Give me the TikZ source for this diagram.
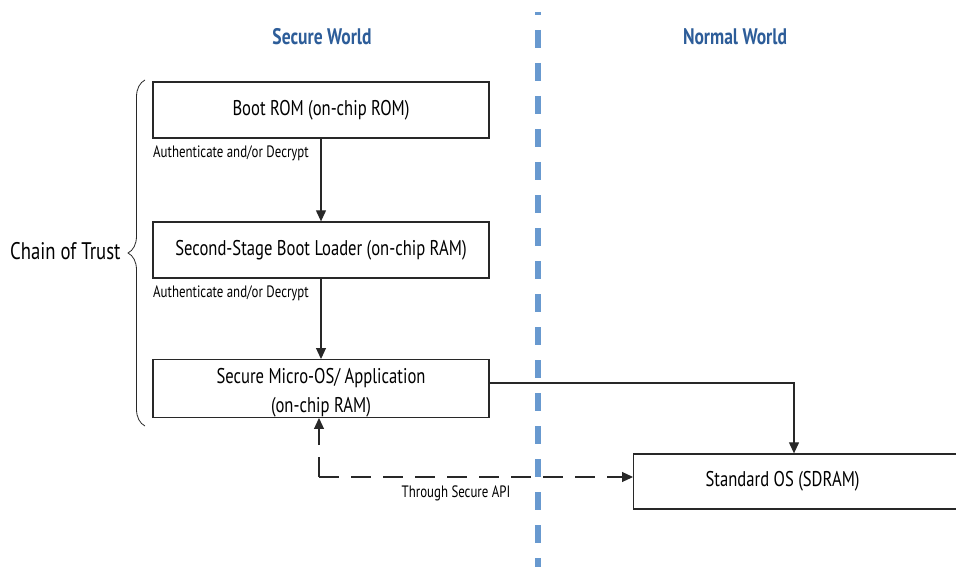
\documentclass[tikz,border=0pt]{standalone}
\usepackage{fontspec}
\setmainfont[FakeStretch=0.78]{PT Sans}
\usetikzlibrary{arrows.meta,decorations.pathreplacing}
\definecolor{divblue}{RGB}{104,153,207}
\definecolor{titleblue}{RGB}{45,93,153}
\definecolor{boxline}{RGB}{40,40,40}
\tikzset{
  stagebox/.style={draw=boxline,line width=1.3pt,minimum width=336pt,minimum height=56pt,inner sep=0pt,font=\fontsize{21.3}{29}\selectfont,align=center},
  osbox/.style={draw=boxline,line width=1.3pt,minimum height=55pt,inner sep=0pt,font=\fontsize{21.3}{29}\selectfont},
  flow/.style={draw=boxline,line width=1.1pt,-{Triangle[length=11pt,width=10pt]}},
  apiflow/.style={flow,dash pattern=on 20pt off 12pt},
  smalllabel/.style={font=\fontsize{16.5}{18}\selectfont,inner sep=0pt},
  title/.style={font=\fontsize{22.5}{26}\selectfont\bfseries,text=titleblue},
}
\begin{document}
\begin{tikzpicture}[x=1pt,y=-1pt]
\useasboundingbox (0,0) rectangle (956,567);
% divider
\draw[divblue,line width=6pt,dash pattern=on 18pt off 15pt,dash phase=15pt] (538,12) -- (538,567);
% titles
\node[title] (sw) at (322,37) {Secure World};
\node[title] (nw) at (735,37) {Normal World};
% boxes
\node[stagebox] (boot) at (321,110) {Boot ROM (on-chip ROM)};
\node[stagebox] (sbl) at (321,250) {Second-Stage Boot Loader (on-chip RAM)};
\node[stagebox] (smos) at (321,388.5) {\rule{0pt}{24pt}Secure Micro-OS/ Application\\(on-chip RAM)};
\node[osbox,anchor=west] (sos) at (633,481.5) {\makebox[330pt][l]{\hspace{72pt}Standard OS (SDRAM)}};
% labels
\node[smalllabel,anchor=west] (l1) at (153,153) {Authenticate and/or Decrypt};
\node[smalllabel,anchor=west] (l2) at (153,293) {Authenticate and/or Decrypt};
\node[smalllabel] (l3) at (456,493) {Through Secure API};
% arrows
\draw[flow] (boot.south) -- (sbl.north);
\draw[flow] (sbl.south) -- (smos.north);
\draw[flow] (smos.east |- 0,383) -| (sos.north -| 794,0);
\coordinate (api) at (319,477);
\draw[apiflow] (api) -- (api |- smos.south);
\draw[apiflow] (api) -- (sos.west |- api);
% brace
\draw[boxline,line width=0.8pt,decorate,decoration={brace,amplitude=17pt,mirror}] (145,80) -- (145,426) coordinate[midway] (bmid);
\node[font=\fontsize{24}{28}\selectfont,anchor=east] (cot) at (124,251) {Chain of Trust};
\end{tikzpicture}
\end{document}
